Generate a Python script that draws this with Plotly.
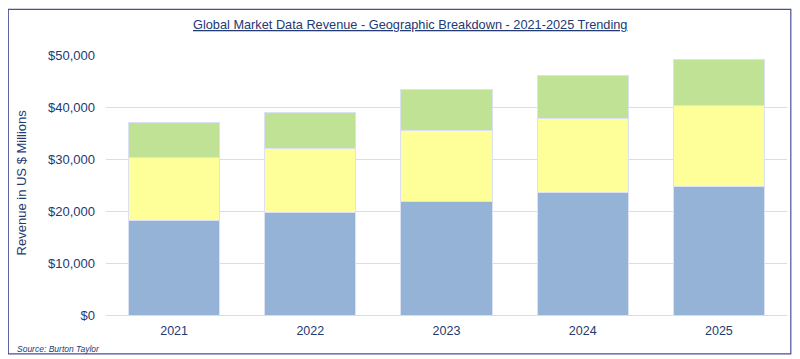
import plotly.graph_objects as go

years = ["2021", "2022", "2023", "2024", "2025"]
americas = [18200, 19800, 21900, 23500, 24800]
emea = [12100, 12300, 13500, 14300, 15400]
apac = [6750, 6900, 7900, 8300, 8850]

series = [
    ("Americas", americas, "#95B3D7"),
    ("EMEA", emea, "#FFFF99"),
    ("Asia Pacific", apac, "#C0E295"),
]

navy = "#233A72"
fig = go.Figure()
for name, vals, color in series:
    fig.add_trace(go.Bar(
        x=years, y=vals, name=name,
        marker=dict(color=color, line=dict(color="#DCE2F4", width=1)),
        showlegend=False,
    ))

# page body has an 8px default margin, so the figure is 8px smaller
fig.update_layout(
    barmode="stack",
    bargap=0.33,
    width=792, height=351,
    margin=dict(l=98, r=13, t=47, b=44),
    paper_bgcolor="white", plot_bgcolor="white",
    font=dict(family="Liberation Sans, Arial, sans-serif", color=navy, size=13),
    xaxis=dict(showgrid=False, showline=False, ticks="", ticklabelstandoff=6,
               tickfont=dict(size=12.5)),
    yaxis=dict(range=[0, 50000], dtick=10000, tickprefix="$", tickformat=",d",
               showgrid=True, gridcolor="#D9DAF3", gridwidth=1,
               zeroline=True, zerolinecolor="#D9DAF3", zerolinewidth=1,
               ticks="", ticklabelstandoff=10, tickfont=dict(size=13)),
    shapes=[dict(type="rect", xref="paper", yref="paper",
                 x0=-0.1435, x1=1.0056, y0=-0.1495, y1=1.1753,
                 line=dict(color="#4A4F98", width=1.2), layer="below")],
    annotations=[
        dict(text="<u>Global Market Data Revenue - Geographic Breakdown - 2021-2025 Trending</u>",
             xref="paper", yref="paper", x=0.4464, y=1.118, showarrow=False,
             xanchor="center", yanchor="middle", font=dict(size=12.75, color=navy)),
        dict(text="Revenue in US $ Millions", textangle=-90,
             xref="paper", yref="paper", x=-0.1248, y=0.51, showarrow=False,
             xanchor="center", yanchor="middle", font=dict(size=13, color=navy)),
        dict(text="<i>Source: Burton Taylor</i>",
             xref="paper", yref="paper", x=-0.1336, y=-0.130, showarrow=False,
             xanchor="left", yanchor="middle", font=dict(size=8.5, color=navy)),
    ],
)

fig.write_html("out.html")
